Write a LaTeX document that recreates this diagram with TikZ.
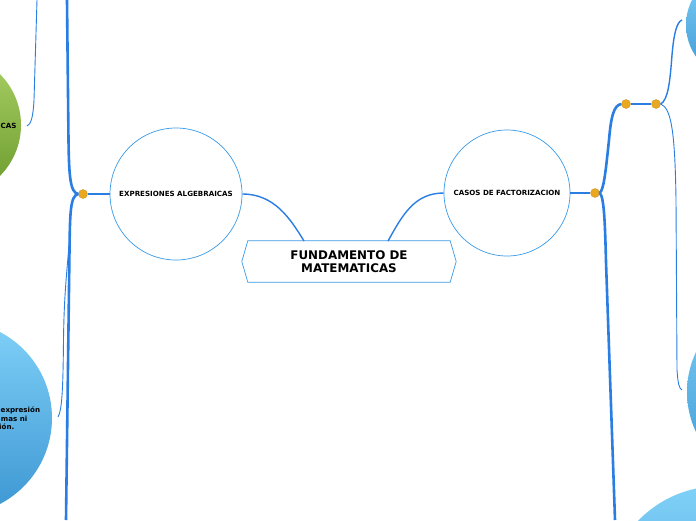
\documentclass[tikz,border=0pt]{standalone}
\usepackage{fontspec}
\setmainfont{DejaVu Sans}
\definecolor{linkblue}{HTML}{2A7EE3}
\definecolor{rimblue}{HTML}{3A9BE6}
\definecolor{dotorange}{HTML}{EAA821}
\definecolor{greentop}{HTML}{A9D166}
\definecolor{greenbot}{HTML}{6A992C}
\definecolor{bluetop}{HTML}{80D1F8}
\definecolor{bluebot}{HTML}{3C96D2}
\begin{document}
\begin{tikzpicture}[x=1pt,y=-1pt,
  link/.style={draw=linkblue, line width=1.4pt},
  trunk/.style={draw=linkblue, line width=2.6pt},
  twig/.style={draw=linkblue, line width=0.9pt},
  bubble/.style={circle, draw=rimblue, line width=0.7pt, fill=white, inner sep=0pt, font=\bfseries\fontsize{7.1}{8.5}\selectfont},
  knob/.style={circle, fill=dotorange, draw=dotorange!85!black, line width=0.3pt, minimum size=9pt, inner sep=0pt},
  greenball/.style={top color=greentop, bottom color=greenbot, draw=none},
  blueball/.style={top color=bluetop, bottom color=bluebot, draw=none},
  smalltxt/.style={font=\bfseries\fontsize{7.1}{8.5}\selectfont, inner sep=0pt}]
\useasboundingbox (0,0) rectangle (696,520);
\clip (0,0) rectangle (696,520);
\fill[white] (0,0) rectangle (696,520);

% outer coloured bubbles (partly off-page)
\shade[greenball] (-51,125) circle[radius=72];
\shade[blueball] (-45,418) circle[radius=97];
\shade[blueball] (741,25) circle[radius=55];
\shade[blueball] (780,392) circle[radius=93];
\shade[blueball] (720,600) circle[radius=114];

\node[smalltxt, anchor=west] (gtxt) at (0.5,126) {CAS};
\node[smalltxt, anchor=west] (b1) at (0.5,410) {expresión};
\node[smalltxt, anchor=east] (b2) at (27.5,418.5) {mas ni};
\node[smalltxt, anchor=east] (b3) at (14.5,427) {ión.};

% main nodes
\node[inner sep=0pt, minimum width=214pt, minimum height=41pt,
      font=\bfseries\fontsize{11.9}{13.5}\selectfont, align=center] (root) at (349,261.5)
      {FUNDAMENTO DE\\MATEMATICAS};
\draw[draw=rimblue, line width=0.7pt] (root.west) -- ([xshift=6pt]root.north west) -- ([xshift=-6pt]root.north east)
   -- (root.east) -- ([xshift=-6pt]root.south east) -- ([xshift=6pt]root.south west) -- cycle;

\node[bubble, minimum size=132pt] (expr) at (176,194) {EXPRESIONES ALGEBRAICAS};
\node[bubble, minimum size=126pt] (casos) at (507,193) {CASOS DE FACTORIZACION};

\coordinate (rl) at (304,241);
\coordinate (rr) at (388,241);
\draw[link] (expr.east) .. controls (274,194) and (290,218) .. (rl);
\draw[link] (rr) .. controls (402,216) and (414,193) .. (casos.west);

% left branch
\node[knob] (dl) at (83,194) {};
\draw[link, line width=1.8pt] (expr.west) -- (dl.east);
\coordinate (lt) at (67,0);
\coordinate (lb) at (66,520);
\draw[trunk] (dl.west) .. controls (70,193) and (69,175) .. (68.5,140) -- (lt);
\draw[trunk] (dl.west) .. controls (70,195) and (70,215) .. (69.5,250) -- (lb);
\coordinate (g0) at (37,0);
\coordinate (gend) at (27,126);
\draw[twig] (g0) -- (34,100) .. controls (33,118) and (31,124) .. (gend);
\coordinate (bstart) at (69.5,240);
\coordinate (bend) at (58,417);
\draw[twig] (bstart) .. controls (66,280) and (64,300) .. (63.5,340) .. controls (63,390) and (62,410) .. (bend);

% right branch
\node[knob] (dr1) at (595,193) {};
\draw[link, line width=1.8pt] (casos.east) -- (dr1.west);
\node[knob] (dr2) at (626,104) {};
\node[knob] (dr3) at (656,104) {};
\draw[link, line width=1.8pt] (dr2.east) -- (dr3.west);
\draw[trunk] (dr1.east) .. controls (604,190) and (606,168) .. (609,140) .. controls (611,116) and (614,105) .. (dr2.west);
\coordinate (rb) at (615,520);
\draw[trunk] (dr1.east) .. controls (604,196) and (605,222) .. (606,262) -- (rb);
\coordinate (tr) at (682,20);
\coordinate (br) at (682,390);
\draw[link] (dr3.east) .. controls (668,100) and (670,82) .. (672,55) .. controls (674,32) and (677,22) .. (tr);
\draw[twig] (dr3.east) .. controls (671,108) and (675,130) .. (676,200) -- (677,370) .. controls (678,384) and (679,388) .. (br);
\end{tikzpicture}
\end{document}
